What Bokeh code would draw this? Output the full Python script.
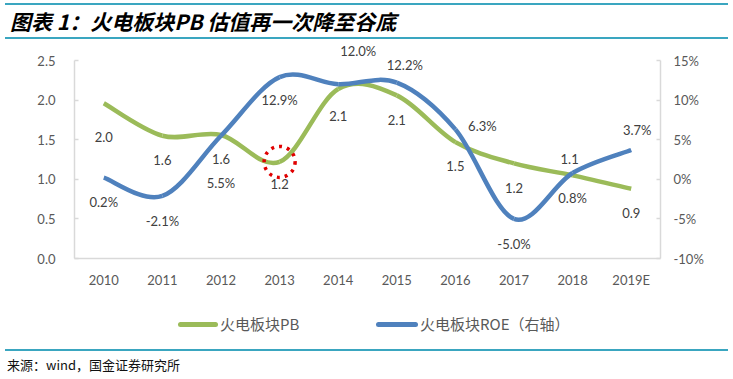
import numpy as np
from bokeh.plotting import figure
from bokeh.models import (Range1d, LinearAxis, FixedTicker, PrintfTickFormatter,
                          Div, ColumnDataSource)
from bokeh.layouts import column
from bokeh.core.properties import value
from bokeh.embed import file_html
from bokeh.resources import INLINE

# ---------------- data ----------------
categories = ["2010", "2011", "2012", "2013", "2014", "2015", "2016", "2017", "2018", "2019E"]
pb = [1.96, 1.55, 1.56, 1.22, 2.14, 2.06, 1.47, 1.20, 1.05, 0.88]
roe = [0.2, -2.1, 5.5, 12.9, 12.0, 12.2, 6.3, -5.0, 0.8, 3.7]
pb_ticks = [0.0, 0.5, 1.0, 1.5, 2.0, 2.5]
roe_ticks = [-10, -5, 0, 5, 10, 15]

title_text = "图表 1：火电板块PB 估值再一次降至谷底"
source_text = "来源：wind，国金证券研究所"
pb_name = "火电板块PB"
roe_name = "火电板块ROE（右轴）"

# ---------------- style ----------------
GREEN = "#9BBB59"
BLUE = "#4F81BD"
TEAL = "#3AA6C0"
AXIS = "#D9D9D9"
TXT = "#595959"
LBL = "#404040"

# label pixel offsets (screen px, y down)
pb_dx = [0, 0, 0, 0, 0, 0, 0, 0, -3, 0]
pb_dy = [34, 24, 24, 22, 27, 25, 24, 25, -16, 24]
roe_dx = [0, 0, 0, 0, 20, 8, 27, 0, 0, 6]
roe_dy = [24, 25, 47, 23, -33, -18, -3, 25, 25, -20]

xs = list(range(len(categories)))


def smooth(x, y):
    n = len(x)
    out = {k: [] for k in ["x0", "y0", "x1", "y1", "cx0", "cy0", "cx1", "cy1"]}
    for i in range(n - 1):
        a = i - 1 if i > 0 else i
        d = i + 2 if i + 2 < n else i + 1
        out["x0"].append(x[i]); out["y0"].append(y[i])
        out["x1"].append(x[i + 1]); out["y1"].append(y[i + 1])
        out["cx0"].append(x[i] + (x[i + 1] - x[a]) / 6.0)
        out["cy0"].append(y[i] + (y[i + 1] - y[a]) / 6.0)
        out["cx1"].append(x[i + 1] - (x[d] - x[i]) / 6.0)
        out["cy1"].append(y[i + 1] - (y[d] - y[i]) / 6.0)
    return out


W = 733
AXIS_H = 198      # pixel height of the drawn axes
FRAME_H = 218     # frame extends 20px above the axes so labels are not clipped
ext = FRAME_H / AXIS_H
pb_lo, pb_hi = pb_ticks[0], pb_ticks[-1]
roe_lo, roe_hi = roe_ticks[0], roe_ticks[-1]

p = figure(width=W, height=FRAME_H + 40, output_backend="svg", toolbar_location=None,
           x_range=Range1d(-0.5, len(categories) - 0.5),
           y_range=Range1d(pb_lo, pb_lo + (pb_hi - pb_lo) * ext),
           min_border_left=74, min_border_right=73, min_border_top=0, min_border_bottom=40)
p.outline_line_color = None
p.xgrid.visible = False
p.ygrid.visible = False
p.background_fill_color = "white"
p.border_fill_color = "white"

p.extra_y_ranges = {"roe": Range1d(roe_lo, roe_lo + (roe_hi - roe_lo) * ext)}

ya = p.yaxis[0]
ya.ticker = FixedTicker(ticks=pb_ticks)
ya.formatter = PrintfTickFormatter(format="%.1f")
ya.bounds = (pb_lo, pb_hi)

ra = LinearAxis(y_range_name="roe", ticker=FixedTicker(ticks=roe_ticks),
                formatter=PrintfTickFormatter(format="%d%%"), bounds=(roe_lo, roe_hi))
p.add_layout(ra, "right")

xa = p.xaxis[0]
xa.ticker = FixedTicker(ticks=xs)
xa.major_label_overrides = {i: c for i, c in zip(xs, categories)}

for ax in [ya, ra, xa]:
    ax.axis_line_color = AXIS
    ax.axis_line_width = 1.5
    ax.major_tick_line_color = AXIS
    ax.major_tick_line_width = 1.5
    ax.major_tick_in = 4
    ax.major_tick_out = 0
    ax.minor_tick_line_color = None
    ax.major_label_text_font = "Lato"
    ax.major_label_text_font_size = "13px"
    ax.major_label_text_color = TXT
xa.major_tick_line_color = None
ya.major_label_standoff = 19
ra.major_label_standoff = 13
xa.major_label_standoff = 13

# smoothed lines
s_pb = ColumnDataSource(smooth(xs, pb))
s_roe = ColumnDataSource(smooth(xs, roe))
p.bezier(x0="x0", y0="y0", x1="x1", y1="y1", cx0="cx0", cy0="cy0", cx1="cx1", cy1="cy1",
         source=s_pb, line_color=GREEN, line_width=4.5)
p.bezier(x0="x0", y0="y0", x1="x1", y1="y1", cx0="cx0", cy0="cy0", cx1="cx1", cy1="cy1",
         source=s_roe, line_color=BLUE, line_width=4.5, y_range_name="roe")

# data labels
lab_pb = ColumnDataSource(dict(x=xs, y=pb, t=[f"{v:.1f}" for v in pb], dx=pb_dx, dy=pb_dy))
lab_roe = ColumnDataSource(dict(x=xs, y=roe, t=[f"{v:.1f}%" for v in roe], dx=roe_dx, dy=roe_dy))
p.text(x="x", y="y", text="t", x_offset="dx", y_offset="dy", source=lab_pb,
       text_font=value("Lato"), text_font_size="13px", text_color=LBL,
       text_align="center", text_baseline="middle")
p.text(x="x", y="y", text="t", x_offset="dx", y_offset="dy", source=lab_roe, y_range_name="roe",
       text_font=value("Lato"), text_font_size="13px", text_color=LBL,
       text_align="center", text_baseline="middle")

# red dotted highlight circle on the 2013 PB point
p.scatter(x=[xs[3]], y=[pb[3]], marker="circle", size=31, fill_color=None,
          line_color="#E00000", line_width=3.5, line_dash="3 5")

# ---------------- HTML parts: title, legend, source ----------------
title = Div(text=(f'<div style="margin:3px 0 0 5px;width:723px;height:36px;box-sizing:border-box;'
                  f'border-top:2px solid {TEAL};border-bottom:2px solid {TEAL};display:flex;'
                  f'align-items:center;padding-left:5px;">'
                  f'<span style="font-family:\'Noto Sans CJK SC\';font-size:21px;font-weight:bold;'
                  f'font-style:italic;color:#000;white-space:nowrap;">{title_text}</span></div>'),
            width=W, height=40, margin=(0, 0, 0, 0))

leg_font = "font-family:'Noto Sans CJK SC';font-size:15px;color:#595959;white-space:nowrap;line-height:18px;"
legend = Div(text=(f'<div style="position:relative;width:{W}px;height:48px;">'
                   f'<div style="position:absolute;left:178px;top:24px;width:40px;height:5px;'
                   f'border-radius:3px;background:{GREEN};"></div>'
                   f'<div style="position:absolute;left:220px;top:17px;{leg_font}">{pb_name}</div>'
                   f'<div style="position:absolute;left:376px;top:24px;width:42px;height:5px;'
                   f'border-radius:3px;background:{BLUE};"></div>'
                   f'<div style="position:absolute;left:420px;top:17px;{leg_font}">{roe_name}</div>'
                   f'</div>'),
             width=W, height=48, margin=(0, 0, 0, 0))

footer = Div(text=(f'<div style="margin:3px 0 0 5px;width:723px;height:30px;box-sizing:border-box;'
                   f'border-top:2px solid {TEAL};display:flex;align-items:center;padding-left:2px;">'
                   f'<span style="font-family:\'Noto Sans CJK SC\';font-size:13px;color:#111;'
                   f'white-space:nowrap;">{source_text}</span></div>'),
             width=W, height=33, margin=(0, 0, 0, 0))

layout = column(title, p, legend, footer, spacing=0)
open("out.html", "w").write(file_html(layout, INLINE))
